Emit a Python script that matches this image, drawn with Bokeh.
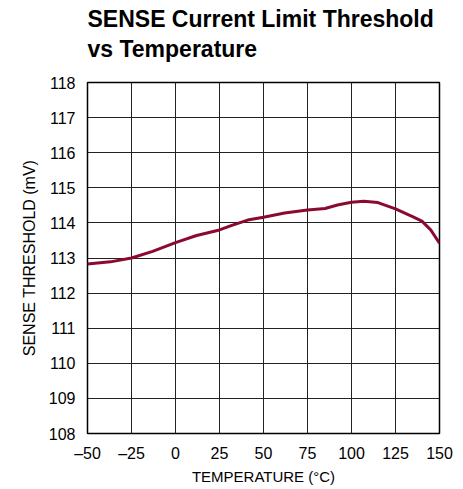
from bokeh.plotting import figure
from bokeh.models import Title, FixedTicker, Range1d
from bokeh.embed import file_html
from bokeh.resources import INLINE

temp_c = [-50, -37, -25, -13, 0, 12, 25, 32, 41, 50, 62, 75, 85, 92, 100, 107, 115, 125, 135, 140, 145, 150]
threshold_mv = [112.83, 112.89, 113.0, 113.19, 113.44, 113.64, 113.80, 113.93, 114.08, 114.16, 114.28,
                114.37, 114.41, 114.51, 114.59, 114.62, 114.58, 114.40, 114.17, 114.05, 113.80, 113.42]
x_ticks = [-50, -25, 0, 25, 50, 75, 100, 125, 150]
y_ticks = [108, 109, 110, 111, 112, 113, 114, 115, 116, 117, 118]

FONT = "Liberation Sans"

p = figure(frame_width=352, frame_height=351, output_backend="svg", toolbar_location=None,
           x_range=Range1d(-50, 150), y_range=Range1d(108, 118),
           min_border_left=87, min_border_right=16, min_border_bottom=48, min_border_top=82)
p.title = None

spacer = Title(text=" ", text_font=FONT, text_font_size="17px", align="left", offset=0, standoff=0)
t2 = Title(text="vs Temperature", text_font=FONT, text_font_size="23px", text_font_style="bold",
           align="left", offset=0, standoff=0, text_color="black")
t1 = Title(text="SENSE Current Limit Threshold", text_font=FONT, text_font_size="23px",
           text_font_style="bold", align="left", offset=0, standoff=3, text_color="black")
p.add_layout(spacer, "above")
p.add_layout(t2, "above")
p.add_layout(t1, "above")

p.line(temp_c, threshold_mv, line_color="#8B0A30", line_width=3)

p.xaxis.ticker = FixedTicker(ticks=x_ticks)
p.yaxis.ticker = FixedTicker(ticks=y_ticks)
p.xaxis.major_label_overrides = {t: (str(t).replace("-", "\u2013")) for t in x_ticks}
for ax in (p.xaxis, p.yaxis):
    ax.axis_line_color = None
    ax.major_tick_line_color = None
    ax.minor_tick_line_color = None
    ax.major_label_text_font = FONT
    ax.major_label_text_font_size = "16px"
    ax.major_label_text_color = "black"
    ax.axis_label_text_font = FONT
    ax.axis_label_text_font_style = "normal"
    ax.axis_label_text_color = "black"
p.xaxis.axis_label_text_font_size = "15px"
p.yaxis.axis_label_text_font_size = "16px"
p.xaxis.axis_label = "TEMPERATURE (\u00b0C)"
p.yaxis.axis_label = "SENSE THRESHOLD (mV)"
p.xaxis.major_label_standoff = 5
p.yaxis.major_label_standoff = 6
p.xaxis.axis_label_standoff = 3
p.yaxis.axis_label_standoff = 8

p.grid.grid_line_color = "#222222"
p.grid.grid_line_width = 1
p.outline_line_color = "black"
p.outline_line_width = 1.5
p.background_fill_color = "white"
p.border_fill_color = "white"

open("out.html", "w").write(file_html(p, INLINE))
